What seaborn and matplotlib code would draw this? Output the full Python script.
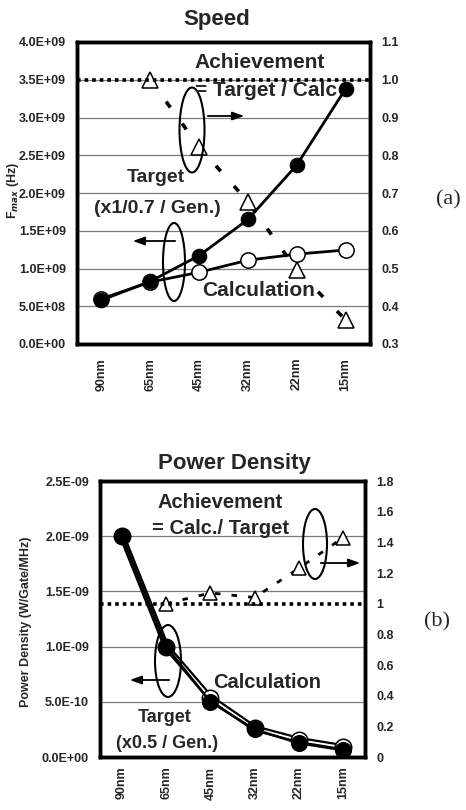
import numpy as np
import pandas as pd
import matplotlib
matplotlib.use("Agg")
import matplotlib.pyplot as plt
import seaborn as sns
from matplotlib.patches import Ellipse, FancyArrowPatch
from matplotlib.ticker import FuncFormatter, FixedLocator
import matplotlib.patheffects as pe

# ---------------- data ----------------
nodes = ["90nm", "65nm", "45nm", "32nm", "22nm", "15nm"]

speed_target = [0.58e9, 0.83e9, 1.17e9, 1.65e9, 2.37e9, 3.38e9]
speed_calc = [0.60e9, 0.82e9, 0.95e9, 1.11e9, 1.19e9, 1.245e9]
speed_ach_nodes = ["65nm", "45nm", "32nm", "22nm", "15nm"]
speed_ach = [1.0, 0.822, 0.677, 0.496, 0.364]

power_target = [2.0e-9, 1.0e-9, 0.5e-9, 0.25e-9, 0.125e-9, 0.0625e-9]
power_calc = [2.0e-9, 1.0e-9, 0.535e-9, 0.26e-9, 0.154e-9, 0.089e-9]
power_ach_nodes = ["65nm", "45nm", "32nm", "22nm", "15nm"]
power_ach = [1.0, 1.07, 1.04, 1.23, 1.43]

speed_left_ticks = [0, 0.5e9, 1.0e9, 1.5e9, 2.0e9, 2.5e9, 3.0e9, 3.5e9, 4.0e9]
speed_right_ticks = [0.3, 0.4, 0.5, 0.6, 0.7, 0.8, 0.9, 1.0, 1.1]
power_left_ticks = [0, 0.5e-9, 1.0e-9, 1.5e-9, 2.0e-9, 2.5e-9]
power_right_ticks = [0, 0.2, 0.4, 0.6, 0.8, 1.0, 1.2, 1.4, 1.6, 1.8]

# ---------------- style ----------------
sns.set_theme(style="white")
plt.rcParams['font.family'] = ['Liberation Sans', 'DejaVu Sans']
plt.rcParams['font.weight'] = 'bold'

W, H = 466, 810
fig = plt.figure(figsize=(W / 100, H / 100), dpi=100)

pos = {n: i for i, n in enumerate(nodes)}


def frame(l, t, r, b):
    return [l / W, 1 - b / H, (r - l) / W, (b - t) / H]


def px(x, y):
    return (x / W, 1 - y / H)


def df_of(names, vals):
    return pd.DataFrame({"pos": [pos[n] for n in names], "val": vals})


def style_axes(ax, axr, xpad):
    for a in (ax, axr):
        for s in a.spines.values():
            s.set_linewidth(2.5)
            s.set_color("black")
        a.tick_params(length=0, pad=8, labelsize=9)
        for lab in a.get_yticklabels():
            lab.set_fontweight("bold")
        a.set_xlabel("")
        a.set_ylabel("")
        a.xaxis.label.set_visible(False)
        a.yaxis.label.set_visible(False)
    ax.set_xlim(-0.5, 5.5)
    ax.set_xticks(range(len(nodes)))
    ax.set_xticklabels(nodes, rotation=90, fontsize=9, fontweight="bold")
    ax.tick_params(axis="x", pad=xpad)


sci = FuncFormatter(lambda v, p: f"{v:.1E}")

# ================= (a) Speed =================
ax1 = fig.add_axes(frame(77, 42, 370, 344))
ax1r = ax1.twinx()

ax1r.set_ylim(0.3, 1.1)
ax1r.yaxis.set_major_locator(FixedLocator(speed_right_ticks))
ax1r.yaxis.set_major_formatter(FuncFormatter(lambda v, p: f"{v:.1f}"))
ax1r.yaxis.grid(True, color="#7a7a7a", lw=0.9)
ax1r.axhline(1.0, color="black", lw=2.6, ls=(0, (1, 1.1)), zorder=3)
sns.lineplot(data=df_of(speed_ach_nodes, speed_ach), x="pos", y="val", ax=ax1r,
             color="black", lw=2.6, linestyle=(0, (2, 5.5)),
             marker="^", markersize=11, markerfacecolor="white",
             markeredgecolor="black", markeredgewidth=1.1, legend=False)

ax1.set_zorder(ax1r.get_zorder() + 1)
ax1.patch.set_visible(False)
ax1.set_ylim(0, 4.0e9)
ax1.yaxis.set_major_locator(FixedLocator(speed_left_ticks))
ax1.yaxis.set_major_formatter(sci)
sns.lineplot(data=df_of(nodes, speed_calc), x="pos", y="val", ax=ax1,
             color="black", lw=2.0, marker="o", markersize=11,
             markerfacecolor="white", markeredgecolor="black",
             markeredgewidth=1.1, legend=False)
sns.lineplot(data=df_of(nodes, speed_target), x="pos", y="val", ax=ax1,
             color="black", lw=2.0, marker="o", markersize=10.5,
             markerfacecolor="black", markeredgecolor="black", legend=False)
style_axes(ax1, ax1r, 10)

# ================= (b) Power density =================
ax2 = fig.add_axes(frame(100, 481, 365, 757))
ax2r = ax2.twinx()

ax2.set_ylim(0, 2.5e-9)
ax2.yaxis.set_major_locator(FixedLocator(power_left_ticks))
ax2.yaxis.set_major_formatter(sci)
ax2.yaxis.grid(True, color="#7a7a7a", lw=0.9)
ax2.set_axisbelow(True)

calc_df = df_of(nodes, power_calc)
sns.lineplot(data=calc_df, x="pos", y="val", ax=ax2, color="white", lw=1.4,
             legend=False)
ax2.lines[-1].set_path_effects([pe.Stroke(linewidth=4.6, foreground="black"), pe.Normal()])
sns.scatterplot(data=calc_df, x="pos", y="val", ax=ax2, s=140, color="white",
                edgecolor="black", linewidth=1.1, zorder=3, legend=False)
sns.lineplot(data=df_of(nodes, power_target), x="pos", y="val", ax=ax2,
             color="black", lw=1.8, marker="o", markersize=11.5,
             markerfacecolor="black", markeredgecolor="black", legend=False)
ax2.lines[-1].set_zorder(4)

ax2r.set_ylim(0, 1.8)
ax2r.yaxis.set_major_locator(FixedLocator(power_right_ticks))
ax2r.yaxis.set_major_formatter(FuncFormatter(lambda v, p: f"{v:g}"))
ax2r.axhline(1.0, color="black", lw=2.6, ls=(0, (1, 1.1)), zorder=3)
sns.lineplot(data=df_of(power_ach_nodes, power_ach), x="pos", y="val", ax=ax2r,
             color="black", lw=2.0, linestyle=(0, (2, 4)),
             marker="^", markersize=10, markerfacecolor="white",
             markeredgecolor="black", markeredgewidth=1.1, legend=False)
style_axes(ax2, ax2r, 7)

# ---------------- annotations ----------------
def txt(x, y, s, size, **kw):
    fig.text(*px(x, y), s, ha="center", va="center", fontsize=size,
             fontweight="bold", **kw)


txt(217, 20, "Speed", 16)
txt(260, 63, "Achievement", 15)
txt(266, 91, "= Target / Calc", 15)
txt(156, 178, "Target", 14)
txt(157, 208, "(x1/0.7 / Gen.)", 14)
txt(259, 290, "Calculation", 15)
fig.text(*px(448, 200), "(a)", ha="center", va="center", fontsize=16,
         family=["Liberation Serif", "DejaVu Serif"], fontweight="normal")
fig.text(*px(13, 190), "F$_{max}$ (Hz)", ha="center", va="center", rotation=90,
         fontsize=9, fontweight="bold")

txt(234, 463, "Power Density", 16)
txt(220, 503, "Achievement", 14.5)
txt(221, 528, "= Calc./ Target", 14.5)
txt(267, 683, "Calculation", 14.5)
txt(165, 717, "Target", 13)
txt(167, 744, "(x0.5 / Gen.)", 13)
fig.text(*px(437, 622), "(b)", ha="center", va="center", fontsize=16,
         family=["Liberation Serif", "DejaVu Serif"], fontweight="normal")
fig.text(*px(26, 622), "Power Density (W/Gate/MHz)", ha="center", va="center",
         rotation=90, fontsize=9, fontweight="bold")

for (cx, cy, w, h) in [(192, 130, 25, 85), (174, 262, 22, 78),
                       (168, 661, 26, 72), (315, 544, 24, 70)]:
    fig.add_artist(Ellipse(px(cx, cy), w / W, h / H, transform=fig.transFigure,
                           fill=False, lw=1.5, ec="black"))

for (x0, y0, x1, y1) in [(205, 116, 247, 116), (178, 241, 130, 241),
                         (172, 680, 127, 680), (318, 563, 363, 563)]:
    fig.add_artist(FancyArrowPatch(px(x0, y0), px(x1, y1), transform=fig.transFigure,
                                   arrowstyle="-|>,head_length=0.7,head_width=0.25",
                                   mutation_scale=10, lw=1.3, color="black"))

fig.savefig("out.png", dpi=100)
